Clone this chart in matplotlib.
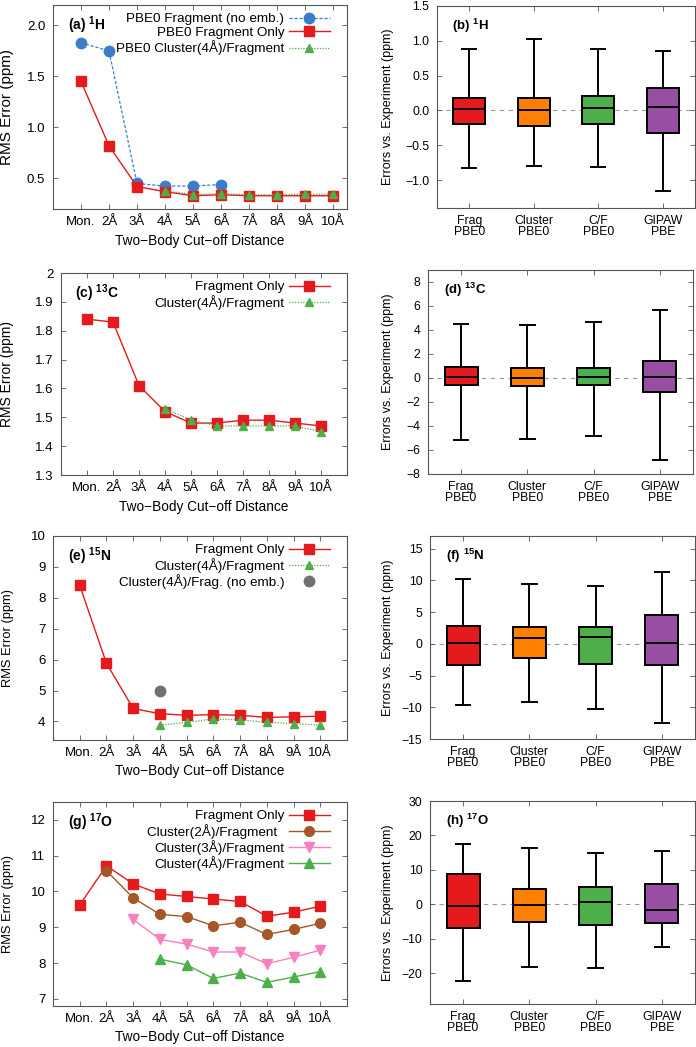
import numpy as np
import matplotlib
matplotlib.use('Agg')
import matplotlib.pyplot as plt
from matplotlib.ticker import FuncFormatter, MultipleLocator

plt.rcParams['font.family'] = ['Liberation Sans', 'DejaVu Sans']
plt.rcParams['mathtext.fontset'] = 'custom'
plt.rcParams['mathtext.rm'] = 'Liberation Sans'
plt.rcParams['mathtext.bf'] = 'Liberation Sans:bold'
plt.rcParams['font.size'] = 9.5

nan = np.nan

# eje x de los paneles izquierdos
cutoffs = ['Mon.', '2Å', '3Å', '4Å', '5Å', '6Å', '7Å', '8Å', '9Å', '10Å']

# (a) 1H
h_noemb = [1.83, 1.75, 0.45, 0.425, 0.425, 0.44, nan, nan, nan, nan]
h_frag = [1.45, 0.82, 0.42, 0.37, 0.33, 0.34, 0.33, 0.33, 0.33, 0.33]
h_clus4 = [nan, nan, nan, 0.38, 0.34, 0.35, 0.34, 0.34, 0.345, 0.345]

# (c) 13C
c_frag = [1.84, 1.83, 1.61, 1.52, 1.48, 1.48, 1.49, 1.49, 1.48, 1.47]
c_clus4 = [nan, nan, nan, 1.53, 1.49, 1.47, 1.47, 1.47, 1.47, 1.45]

# (e) 15N
n_frag = [8.4, 5.88, 4.42, 4.25, 4.2, 4.22, 4.2, 4.13, 4.15, 4.17]
n_clus4 = [nan, nan, nan, 3.88, 3.97, 4.08, 4.05, 3.97, 3.93, 3.88]
n_noemb = [nan, nan, nan, 5.0, nan, nan, nan, nan, nan, nan]

# (g) 17O
o_frag = [9.62, 10.72, 10.21, 9.93, 9.86, 9.79, 9.72, 9.31, 9.42, 9.59]
o_clus2 = [nan, 10.58, 9.82, 9.36, 9.30, 9.04, 9.14, 8.80, 8.94, 9.11]
o_clus3 = [nan, nan, 9.22, 8.66, 8.53, 8.31, 8.31, 7.98, 8.16, 8.36]
o_clus4 = [nan, nan, nan, 8.11, 7.95, 7.57, 7.72, 7.46, 7.61, 7.76]

# paneles derechos: [whislo, q1, med, q3, whishi] por metodo
methods = ['Frag\nPBE0', 'Cluster\nPBE0', 'C/F\nPBE0', 'GIPAW\nPBE']
box_h = [[-0.82, -0.19, 0.02, 0.18, 0.88],
         [-0.80, -0.22, 0.01, 0.18, 1.02],
         [-0.81, -0.20, 0.03, 0.21, 0.88],
         [-1.15, -0.33, 0.05, 0.32, 0.85]]
box_c = [[-5.2, -0.6, 0.1, 0.9, 4.5],
         [-5.05, -0.7, 0.0, 0.8, 4.4],
         [-4.8, -0.6, 0.05, 0.85, 4.7],
         [-6.85, -1.2, 0.05, 1.45, 5.7]]
box_n = [[-9.7, -3.4, 0.2, 2.8, 10.2],
         [-9.2, -2.3, 1.0, 2.6, 9.4],
         [-10.2, -3.1, 1.1, 2.7, 9.1],
         [-12.4, -3.4, 0.2, 4.5, 11.4]]
box_o = [[-22.3, -7.0, -0.5, 8.8, 17.5],
         [-18.3, -5.1, -0.2, 4.5, 16.3],
         [-18.5, -6.1, 0.6, 5.0, 14.8],
         [-12.4, -5.6, -1.6, 6.0, 15.6]]

RED = '#e41a1c'
BLUE = '#3a7dc9'
GREEN = '#4daf4a'
ORANGE = '#ff7f00'
PURPLE = '#984ea3'
BROWN = '#a65628'
PINK = '#f781bf'
GRAY = '#707070'
box_colors = [RED, ORANGE, GREEN, PURPLE]

W, H = 696, 1047
fig = plt.figure(figsize=(W / 100, H / 100), dpi=100)


def px_axes(left, top, right, bottom):
    ax = fig.add_axes([left / W, 1 - bottom / H, (right - left) / W, (bottom - top) / H])
    ax._px = (left, top, right, bottom)
    return ax


def style(ax, size):
    for s in ax.spines.values():
        s.set_color('#555555')
        s.set_linewidth(0.8)
    ax.tick_params(direction='in', top=True, right=True, length=3.5, width=0.6,
                   color='#555555', labelsize=size)
    ax.tick_params(axis='x', pad=5)
    ax.tick_params(axis='y', pad=5.5)


def fmt(spec):
    return FuncFormatter(lambda v, p: (spec % v).replace('-', '\u2212'))


def ylabel_at(ax, text, xpix, size):
    left, top, right, bottom = ax._px
    ax.set_ylabel(text, fontsize=size)
    ax.yaxis.set_label_coords((xpix - left) / (right - left), 0.5)


def legend_at(ax):
    left, top, right, bottom = ax._px
    ax.legend(loc='upper right', frameon=False, markerfirst=False, handlelength=3.0,
              labelspacing=0.1, borderaxespad=0, handletextpad=0.35, fontsize=9.7,
              bbox_to_anchor=(1 - 12 / (right - left), 1 - 2.5 / (bottom - top)))


x = np.arange(len(cutoffs))


def left_panel(ax, series, ylim, ystep, yfmt, label, xmax, ylab_size):
    for vals, kw in series:
        ax.plot(x, vals, **kw)
    ax.set_xlim(-1, xmax)
    ax.set_ylim(*ylim)
    ax.set_xticks(x)
    ax.set_xticklabels(cutoffs)
    ax.yaxis.set_major_locator(MultipleLocator(ystep))
    ax.yaxis.set_major_formatter(fmt(yfmt))
    ax.set_xlabel('Two\u2212Body Cut\u2212off Distance', fontsize=9.8, labelpad=4)
    ylabel_at(ax, 'RMS Error (ppm)', 14, ylab_size)
    ax.text(0.05, 0.90, label, transform=ax.transAxes, fontsize=10, fontweight='bold',
            va='center', ha='left')
    legend_at(ax)
    style(ax, 9.5)


def right_panel(ax, boxes, ylim, ystep, yfmt, label):
    stats = []
    for b in boxes:
        stats.append(dict(whislo=b[0], q1=b[1], med=b[2], q3=b[3], whishi=b[4]))
    ax.axhline(0, color='#9a9a9a', lw=0.8, ls=(0, (4, 4)), zorder=0.5)
    bp = ax.bxp(stats, positions=[1, 2, 3, 4], widths=0.5, patch_artist=True,
                showfliers=False, capwidths=0.22,
                boxprops=dict(linewidth=1.4, edgecolor='black'),
                medianprops=dict(color='black', linewidth=1.4),
                whiskerprops=dict(color='black', linewidth=1.4),
                capprops=dict(color='black', linewidth=1.4))
    for patch, c in zip(bp['boxes'], box_colors):
        patch.set_facecolor(c)
    ax.set_xlim(0.5, 4.5)
    ax.set_ylim(*ylim)
    ax.set_xticks([1, 2, 3, 4])
    ax.set_xticklabels(methods, linespacing=0.88)
    ax.yaxis.set_major_locator(MultipleLocator(ystep))
    ax.yaxis.set_major_formatter(fmt(yfmt))
    ylabel_at(ax, 'Errors vs. Experiment (ppm)', 394, 9.0)
    ax.text(0.06, 0.90, label, transform=ax.transAxes, fontsize=9.5, fontweight='bold',
            va='center', ha='left')
    style(ax, 8.8)


sq = dict(color=RED, marker='s', ms=7, lw=1.0, ls='-')
tri_dot = dict(color=GREEN, marker='^', ms=6, lw=0.9, ls=(0, (1, 1.2)))

# (a)
ax = px_axes(53, 5, 347, 209)
left_panel(ax, [
    (h_noemb, dict(color=BLUE, marker='o', ms=7.5, lw=0.9, ls=(0, (2.5, 1.5)), label='PBE0 Fragment (no emb.)')),
    (h_frag, dict(sq, label='PBE0 Fragment Only')),
    (h_clus4, dict(tri_dot, label='PBE0 Cluster(4Å)/Fragment')),
], (0.2, 2.2), 0.5, '%.1f', r'(a) $\mathbf{^{1}H}$', 9.5, 11)

# (c)
ax = px_axes(61, 273, 347, 475)
left_panel(ax, [
    (c_frag, dict(sq, label='Fragment Only')),
    (c_clus4, dict(tri_dot, label='Cluster(4Å)/Fragment')),
], (1.3, 2.0), 0.1, '%g', r'(c) $\mathbf{^{13}C}$', 10, 10)

# (e)
ax = px_axes(53, 536, 347, 740)
left_panel(ax, [
    (n_frag, dict(sq, label='Fragment Only')),
    (n_clus4, dict(tri_dot, label='Cluster(4Å)/Fragment')),
    (n_noemb, dict(color=GRAY, marker='o', ms=7.5, ls='none', label='Cluster(4Å)/Frag. (no emb.)')),
], (3.4, 10), 1, '%g', r'(e) $\mathbf{^{15}N}$', 10, 9.3)

# (g)
ax = px_axes(53, 802, 347, 1006)
left_panel(ax, [
    (o_frag, dict(sq, label='Fragment Only')),
    (o_clus2, dict(color=BROWN, marker='o', ms=7, lw=1.0, label='Cluster(2Å)/Fragment  ')),
    (o_clus3, dict(color=PINK, marker='v', ms=6.5, lw=1.0, label='Cluster(3Å)/Fragment')),
    (o_clus4, dict(color=GREEN, marker='^', ms=6.5, lw=1.0, label='Cluster(4Å)/Fragment')),
], (6.8, 12.5), 1, '%g', r'(g) $\mathbf{^{17}O}$', 10, 9.3)

# paneles derechos
ax = px_axes(437, 6, 695, 208)
right_panel(ax, box_h, (-1.4, 1.5), 0.5, '%.1f', r'(b) $\mathbf{^{1}H}$')

ax = px_axes(428, 270, 693, 474)
right_panel(ax, box_c, (-8, 9), 2, '%g', r'(d) $\mathbf{^{13}C}$')

ax = px_axes(430, 536, 695, 739)
right_panel(ax, box_n, (-15, 17), 5, '%g', r'(f) $\mathbf{^{15}N}$')

ax = px_axes(430, 801, 695, 1004)
right_panel(ax, box_o, (-29, 30), 10, '%g', r'(h) $\mathbf{^{17}O}$')

fig.savefig('out.png', dpi=100)
